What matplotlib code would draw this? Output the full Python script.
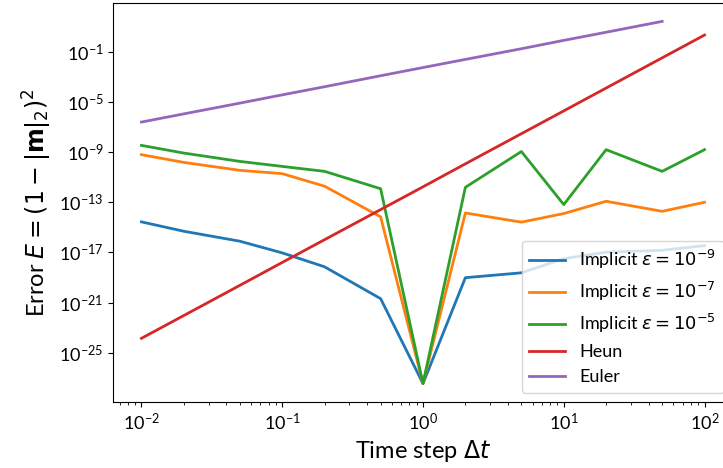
import matplotlib
matplotlib.use("Agg")
import matplotlib.pyplot as plt
from matplotlib.ticker import NullLocator

plt.rcParams['font.family'] = ['Lato', 'DejaVu Sans']
plt.rcParams['mathtext.fontset'] = 'dejavusans'

# time steps
dt = [0.01, 0.02, 0.05, 0.1, 0.2, 0.5, 1, 2, 5, 10, 20, 50, 100]
dt_euler = dt[:-1]

# errors
implicit_9 = [2.75e-15, 4.9e-16, 7.9e-17, 9.3e-18, 7.2e-19, 2.1e-21, 3.6e-28,
              9.8e-20, 2.4e-19, 3.2e-18, 1.05e-17, 1.5e-17, 3.5e-17]
implicit_7 = [6.2e-10, 1.5e-10, 3.5e-11, 1.9e-11, 1.9e-12, 6.9e-15, 3.6e-28,
              1.4e-14, 2.6e-15, 1.26e-14, 1.2e-13, 1.9e-14, 1.0e-13]
implicit_5 = [3.4e-9, 8.3e-10, 1.8e-10, 7.2e-11, 2.9e-11, 1.2e-12, 3.6e-28,
              1.55e-12, 1.1e-9, 6.5e-14, 1.55e-9, 2.9e-11, 1.55e-9]
heun = [1.45e-24, 9.5e-23, 2.4e-20, 1.6e-18, 1.05e-16, 2.6e-14, 1.7e-12,
        1.15e-10, 2.9e-8, 1.9e-6, 1.26e-4, 3.2e-2, 2.1]
euler = [2.45e-7, 1.1e-6, 7.9e-6, 3.6e-5, 1.6e-4, 1.2e-3, 5.4e-3,
         2.4e-2, 0.17, 0.79, 3.5, 25.7]

labels = [r"Implicit $\varepsilon = 10^{-9}$", r"Implicit $\varepsilon = 10^{-7}$",
          r"Implicit $\varepsilon = 10^{-5}$", "Heun", "Euler"]
yticks = [1e-1, 1e-5, 1e-9, 1e-13, 1e-17, 1e-21, 1e-25]

fig = plt.figure(figsize=(7.23, 4.68), dpi=100)
ax = fig.add_axes([0.1567, 0.1417, 0.8567, 0.8513])

ax.plot(dt, implicit_9, lw=2, label=labels[0])
ax.plot(dt, implicit_7, lw=2, label=labels[1])
ax.plot(dt, implicit_5, lw=2, label=labels[2])
ax.plot(dt, heun, lw=2, label=labels[3])
ax.plot(dt_euler, euler, lw=2, label=labels[4])

ax.set_xscale("log")
ax.set_yscale("log")
ax.set_yticks(yticks)
ax.yaxis.set_minor_locator(NullLocator())
ax.tick_params(labelsize=13)

ax.set_xlabel(r"Time step $\Delta t$", fontsize=17)
ax.set_ylabel(r"Error $E = (1 - |\mathbf{m}|_2)^2$", fontsize=17)
ax.legend(loc="lower right", fontsize=13)

fig.savefig("out.png")
